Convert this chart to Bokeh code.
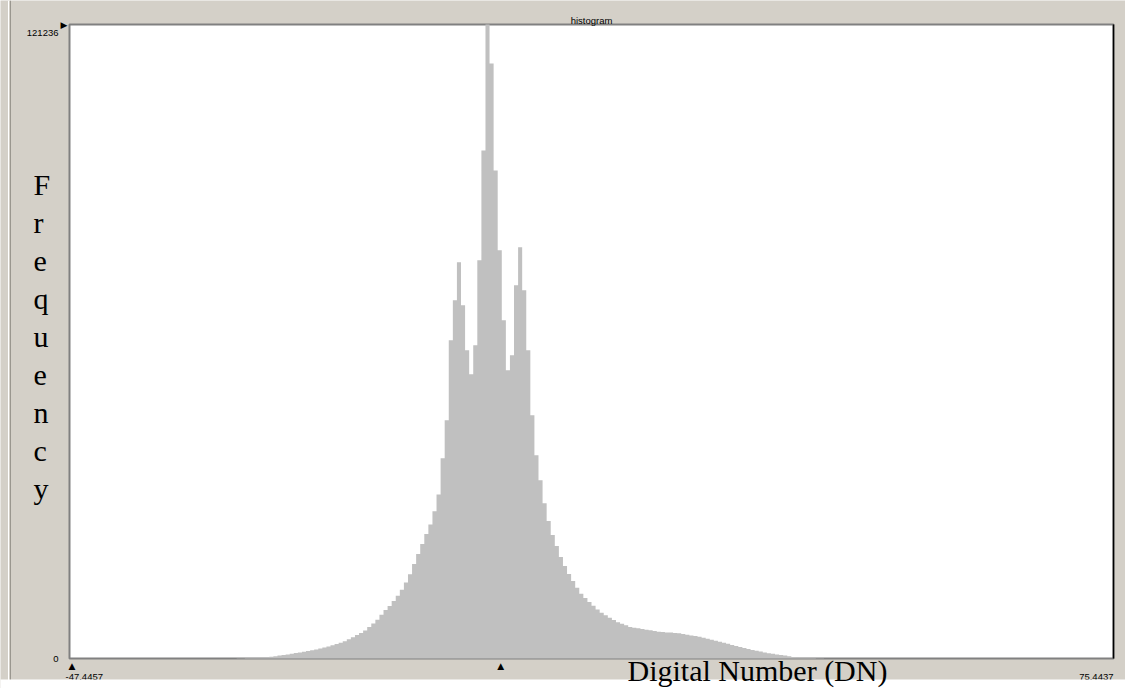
import numpy as np
from bokeh.plotting import figure
from bokeh.models import Range1d, Label, Span
from bokeh.embed import file_html
from bokeh.resources import INLINE

# ---- data -------------------------------------------------------------
X_MIN = -47.4457
X_MAX = 75.4437
Y_MAX = 121236
N_BINS = 256
FIRST_BIN = 40          # index of the first listed bin
counts = [
    20, 40, 60, 90, 120, 160, 190, 210, 240, 344,
    439, 554, 669, 783, 917, 1032, 1166, 1299, 1433, 1586,
    1720, 1911, 2121, 2312, 2522, 2751, 3019, 3306, 3688, 4070,
    4471, 4853, 5331, 6000, 6687, 7414, 8369, 9267, 10050, 10987,
    11980, 13146, 14521, 16088, 18056, 20005, 21897, 23788, 25642, 28164,
    31374, 38311, 45570, 60856, 68499, 75760, 67544, 58946, 54360, 59901,
    76142, 97159, 121236, 113786, 93339, 78053, 64679, 55125, 57991, 71366,
    78626, 70411, 58946, 46527, 38884, 34107, 29711, 26272, 23597, 21495,
    19393, 17674, 16145, 14808, 13528, 12362, 11579, 10815, 10088, 9382,
    8751, 8292, 7815, 7356, 6917, 6630, 6343, 6038, 5904, 5770,
    5637, 5503, 5388, 5254, 5121, 5044, 4987, 4949, 4891, 4815,
    4681, 4548, 4414, 4280, 4146, 3974, 3783, 3592, 3401, 3210,
    3000, 2809, 2599, 2388, 2178, 1987, 1815, 1643, 1490, 1318,
    1146, 1013, 898, 783, 669, 554, 439, 306, 248, 210,
    153, 115, 76, 57, 38, 20, 10,
]
MARKER_DN = 3.3
TITLE = "histogram"
Y_LABEL = "Frequency"
X_LABEL = "Digital Number (DN)"
Y_TICKS = [0, Y_MAX]
X_TICKS = [X_MIN, X_MAX]

# ---- layout (pixels) --------------------------------------------------
W, H = 1125, 688
PL, PR, PT, PB = 69, 12, 24, 30           # plot-area margins inside the window
WHITE_BAND = 9                            # white strip at the bottom of the page

px_x = (X_MAX - X_MIN) / (W - PL - PR)    # data units per pixel
px_y = Y_MAX / (H - PT - PB)

GRAY = "#d4d0c8"
p = figure(width=W, height=H, output_backend="svg", toolbar_location=None,
           x_range=Range1d(X_MIN - PL * px_x, X_MAX + PR * px_x),
           y_range=Range1d(-PB * px_y, Y_MAX + PT * px_y),
           min_border=0)
p.xaxis.visible = False
p.yaxis.visible = False
p.grid.visible = False
p.outline_line_color = None
p.background_fill_color = GRAY
p.border_fill_color = GRAY

# window edge on the left
p.add_layout(Span(location=X_MIN - (PL - 8) * px_x, dimension="height",
                  line_color="white", line_width=1))
p.add_layout(Span(location=X_MIN - (PL - 10) * px_x, dimension="height",
                  line_color="#9a978f", line_width=1))

# plot area
p.quad(left=X_MIN, right=X_MAX, bottom=0, top=Y_MAX, fill_color="white",
       line_color="#808080", line_width=2)
p.segment(x0=X_MAX, y0=0, x1=X_MAX, y1=Y_MAX, line_color="black", line_width=1.5)

# histogram as one stepped area
edges = np.linspace(X_MIN, X_MAX, N_BINS + 1)
n = len(counts)
xs = list(edges[FIRST_BIN:FIRST_BIN + n + 1])
ys = list(counts) + [0]
p.varea_step(x=xs, y1=[0] * len(xs), y2=ys, step_mode="after", fill_color="#c0c0c0")

small = dict(text_font="Liberation Sans", text_font_size="9.5px", text_color="black")

# y tick labels
p.add_layout(Label(x=X_MIN, y=Y_TICKS[1], text=str(Y_TICKS[1]), x_offset=-11, y_offset=-8.5,
                   text_align="right", text_baseline="alphabetic", **small))
p.add_layout(Label(x=X_MIN, y=Y_TICKS[0], text=str(Y_TICKS[0]), x_offset=-11, y_offset=0,
                   text_align="right", text_baseline="alphabetic", **small))
# x tick labels
p.add_layout(Label(x=X_TICKS[0], y=0, text="%.4f" % X_TICKS[0], x_offset=-4, y_offset=-15,
                   text_align="left", text_baseline="top", **small))
p.add_layout(Label(x=X_TICKS[1], y=0, text="%.4f" % X_TICKS[1], x_offset=0, y_offset=-15,
                   text_align="right", text_baseline="top", **small))
# markers
tri = dict(text_font="DejaVu Sans", text_font_size="9px", text_color="black")
p.add_layout(Label(x=X_MIN, y=0, text="\u25B2", x_offset=2.5, y_offset=-12,
                   text_align="center", text_baseline="bottom", **tri))
p.add_layout(Label(x=MARKER_DN, y=0, text="\u25B2", x_offset=0, y_offset=-12,
                   text_align="center", text_baseline="bottom", **tri))
p.add_layout(Label(x=X_MIN, y=Y_MAX, text="\u25B6", x_offset=-2, y_offset=0,
                   text_align="right", text_baseline="middle", **tri))
# title
p.add_layout(Label(x=(X_MIN + X_MAX) / 2, y=Y_MAX, text=TITLE, y_offset=4.5,
                   text_align="center", text_baseline="alphabetic", **small))

# white strip at the bottom of the page (drawn over the cut tick labels)
band_top = -(PB - WHITE_BAND) * px_y
band_bottom = -PB * px_y
p.quad(left=X_MIN - PL * px_x, right=X_MAX + PR * px_x, bottom=band_bottom, top=band_top,
       fill_color="white", line_color=None, level="overlay")

big = dict(text_font="Liberation Serif", text_font_size="30px", text_color="black")
freq = Label(x=X_MIN, y=Y_MAX, text="\n".join(Y_LABEL), x_offset=-36, y_offset=-143,
             text_align="left", text_baseline="top", text_line_height=1.152, **big)
xlab = Label(x=X_MIN, y=0, text=X_LABEL, x_offset=558, y_offset=-12,
             text_align="left", text_baseline="alphabetic", **big)
freq.level = "overlay"
xlab.level = "overlay"
p.add_layout(freq)
p.add_layout(xlab)

open("out.html", "w").write(file_html(p, INLINE))
